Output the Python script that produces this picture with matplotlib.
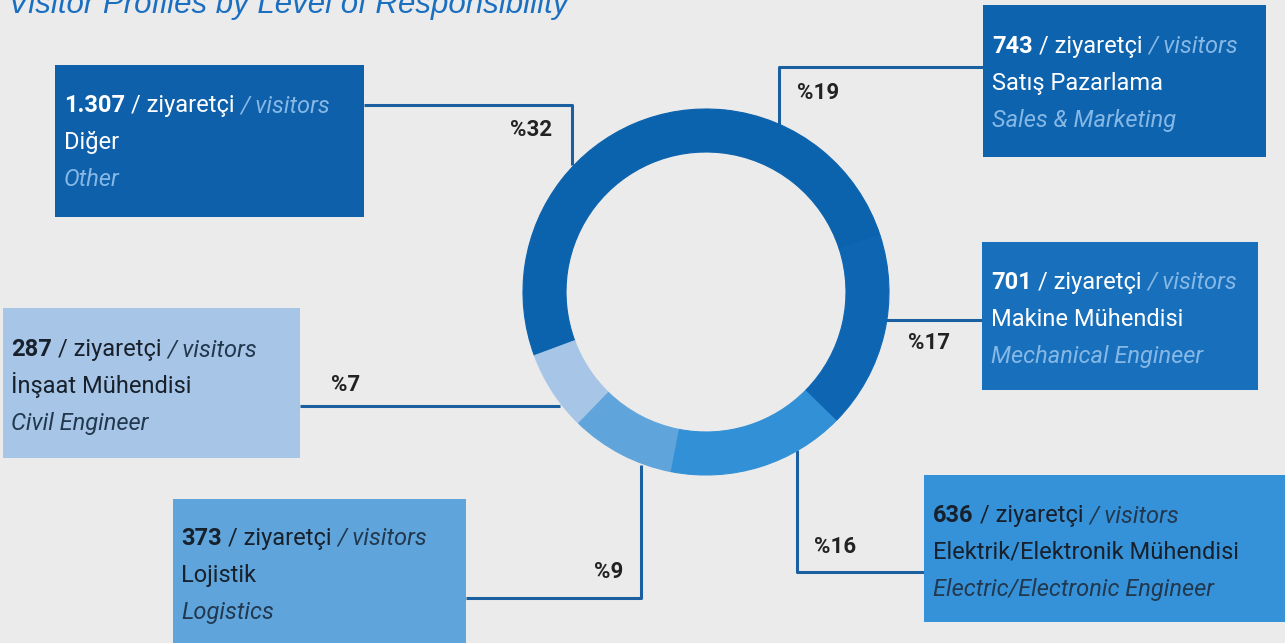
import matplotlib.pyplot as plt
from matplotlib.patches import Rectangle

# data (order follows the ring, counter-clockwise from the Sales slice)
labels_tr = ['Satış Pazarlama', 'Diğer', 'İnşaat Mühendisi', 'Lojistik',
             'Elektrik/Elektronik Mühendisi', 'Makine Mühendisi']
labels_en = ['Sales & Marketing', 'Other', 'Civil Engineer', 'Logistics',
             'Electric/Electronic Engineer', 'Mechanical Engineer']
visitors = [743, 1307, 287, 373, 636, 701]
visitor_text = ['743', '1.307', '287', '373', '636', '701']
percent_text = ['%19', '%32', '%7', '%9', '%16', '%17']
ring_colors = ['#0b62ad', '#0b62ad', '#a7c5e6', '#5fa5dc', '#3290d6', '#0e66b3']
box_colors = ['#0d63ae', '#0e60aa', '#a7c5e6', '#5fa5dc', '#3592d8', '#1870bc']
dark_box = [True, True, False, False, False, True]

TITLE = 'Visitor Profiles by Level of Responsibility'
FONT = ['Roboto', 'DejaVu Sans']

# layout in pixels (y grows downward)
W, H = 1285, 643
CENTER = (706, 292)
R_OUT, RING = 183, 43
boxes = [(983, 5, 283, 152), (55, 65, 309, 152), (3, 308, 297, 150),
         (173, 499, 293, 150), (924, 475, 365, 147), (982, 242, 276, 148)]
text_x = [992, 64, 11, 181, 933, 991]
first_line = [53, 112, 356, 545, 522, 289]
line_gap = 37
connectors = [[(983, 67), (779, 67), (779, 130)],
              [(364, 105), (572, 105), (572, 165)],
              [(300, 406), (560, 406)],
              [(466, 598), (641, 598), (641, 465)],
              [(924, 572), (797, 572), (797, 450)],
              [(982, 320), (882, 320)]]
pct_pos = [(818, 93), (531, 130), (346, 385), (609, 572), (835, 547), (929, 343)]

fig = plt.figure(figsize=(W / 100, H / 100), dpi=100)
fig.patch.set_facecolor('#ebebeb')
ax = fig.add_axes([0, 0, 1, 1])
ax.set_facecolor('#ebebeb')

# connector lines sit under the ring
for pts in connectors:
    xs, ys = zip(*pts)
    ax.plot(xs, ys, color='#1a5f9f', lw=2.2, zorder=1, solid_capstyle='butt')

ax.pie(visitors, colors=ring_colors, startangle=-18, counterclock=False,
       radius=R_OUT, center=CENTER,
       wedgeprops=dict(width=RING, linewidth=0.8))
for w, c in zip(ax.patches, ring_colors):
    w.set_edgecolor(c)
    w.set_zorder(3)

ax.set_xlim(0, W)
ax.set_ylim(H, 0)
ax.set_aspect('equal')
ax.axis('off')

renderer = fig.canvas.get_renderer()


def draw_runs(x, y, runs, size=17):
    # place pieces of one line side by side
    for txt, col, weight, style in runs:
        t = ax.text(x, y, txt, color=col, fontsize=size, fontweight=weight,
                    fontstyle=style, family=FONT, va='baseline', ha='left', zorder=5)
        x += t.get_window_extent(renderer).width + 6


for i in range(len(visitors)):
    bx, by, bw, bh = boxes[i]
    ax.add_patch(Rectangle((bx, by), bw, bh, facecolor=box_colors[i],
                           edgecolor='none', zorder=4))
    if dark_box[i]:
        main, soft = 'white', '#86b8e6'
    else:
        main, soft = '#17202b', '#22384f'
    y0 = first_line[i]
    draw_runs(text_x[i], y0, [(visitor_text[i], main, 'bold', 'normal'),
                              ('/ ziyaretçi', main, 'normal', 'normal'),
                              ('/ visitors', soft, 'normal', 'italic')])
    draw_runs(text_x[i], y0 + line_gap, [(labels_tr[i], main, 'normal', 'normal')])
    draw_runs(text_x[i], y0 + 2 * line_gap, [(labels_en[i], soft, 'normal', 'italic')])
    px, py = pct_pos[i]
    ax.text(px, py, percent_text[i], fontsize=16, fontweight='bold', color='#222222',
            family=FONT, ha='center', va='center', zorder=5)

ax.text(8, 13, TITLE, fontsize=22.5, fontstyle='italic', color='#1b6fc0',
        family=['Liberation Sans', 'DejaVu Sans'], va='baseline', ha='left')

fig.savefig('out.png', dpi=100, facecolor=fig.get_facecolor())
